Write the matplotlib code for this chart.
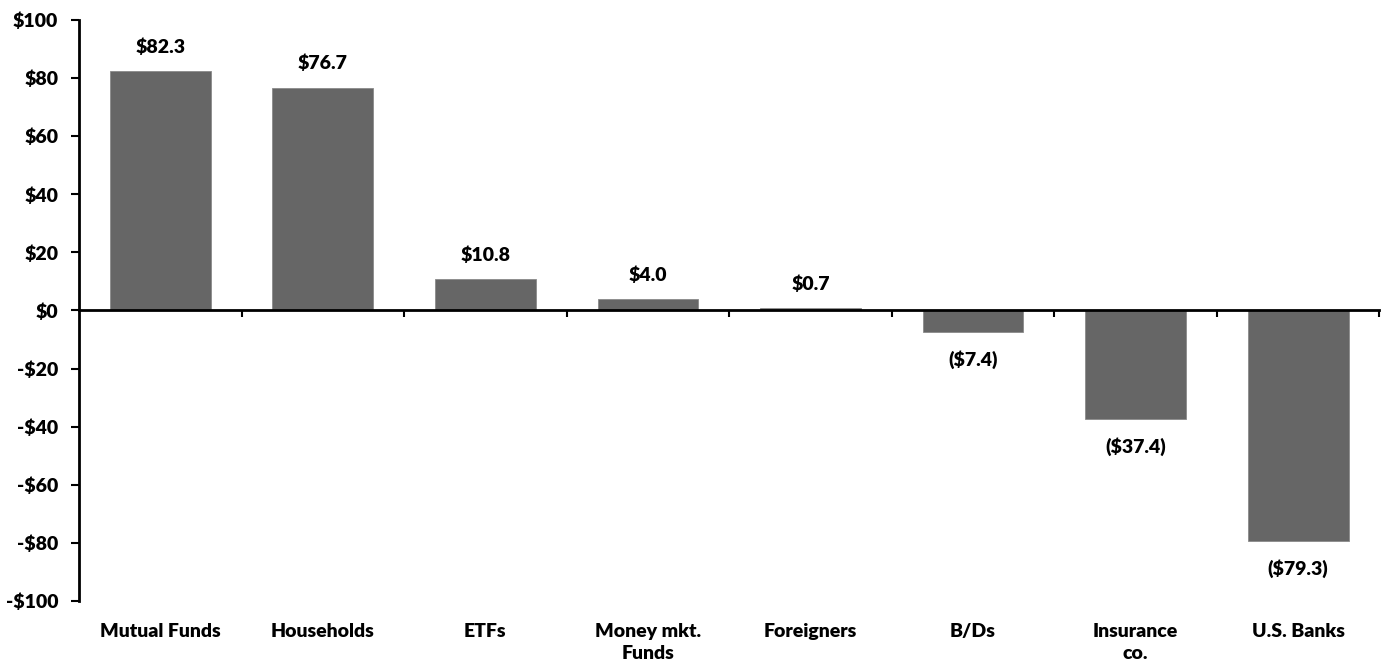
import numpy as np
import matplotlib.pyplot as plt
from matplotlib.ticker import FuncFormatter, MultipleLocator

categories = ["Mutual Funds", "Households", "ETFs", "Money mkt.\nFunds",
              "Foreigners", "B/Ds", "Insurance\nco.", "U.S. Banks"]
values = [82.3, 76.7, 10.8, 4.0, 0.7, -7.4, -37.4, -79.3]

plt.rcParams['font.family'] = ['Lato', 'DejaVu Sans']
plt.rcParams['font.weight'] = 'heavy'
plt.rcParams['font.size'] = 14

fig = plt.figure(figsize=(13.85, 6.65), dpi=100)
ax = fig.add_axes([0.057, 0.0962, 0.939, 0.8738])

x = np.arange(len(categories))
bars = ax.bar(x, values, width=0.62, color='#666666', edgecolor='#8a8a8a',
              linewidth=0.6, zorder=2)

for b, v in zip(bars, values):
    cx = b.get_x() + b.get_width() / 2
    if v >= 0:
        ax.annotate(f"${v:.1f}", (cx, v), xytext=(0, 11),
                    textcoords='offset points', ha='center', va='bottom')
    else:
        ax.annotate(f"(${abs(v):.1f})", (cx, v), xytext=(0, -13),
                    textcoords='offset points', ha='center', va='top')

ax.set_xlim(-0.5, len(categories) - 0.5)
ax.set_ylim(-100, 100)
ax.yaxis.set_major_locator(MultipleLocator(20))
ax.yaxis.set_major_formatter(FuncFormatter(
    lambda v, _: f"${v:.0f}" if v >= 0 else f"-${abs(v):.0f}"))

for s in ['top', 'right']:
    ax.spines[s].set_visible(False)
ax.spines['left'].set_linewidth(2)
ax.spines['bottom'].set_position(('data', 0))
ax.spines['bottom'].set_linewidth(2)
ax.spines['bottom'].set_zorder(3)

ax.set_xticks(np.arange(0.5, len(categories), 1.0))
ax.set_xticklabels([])
ax.tick_params(axis='x', direction='out', length=5, width=1.5)
ax.tick_params(axis='y', direction='out', length=6, width=1.5, pad=9)

# category names sit under the plot area, not on the zero line
for xi, name in zip(x, categories):
    ax.text(xi, -0.037, name, transform=ax.get_xaxis_transform(),
            ha='center', va='top', linespacing=1.4)

fig.savefig('out.png', dpi=100)
